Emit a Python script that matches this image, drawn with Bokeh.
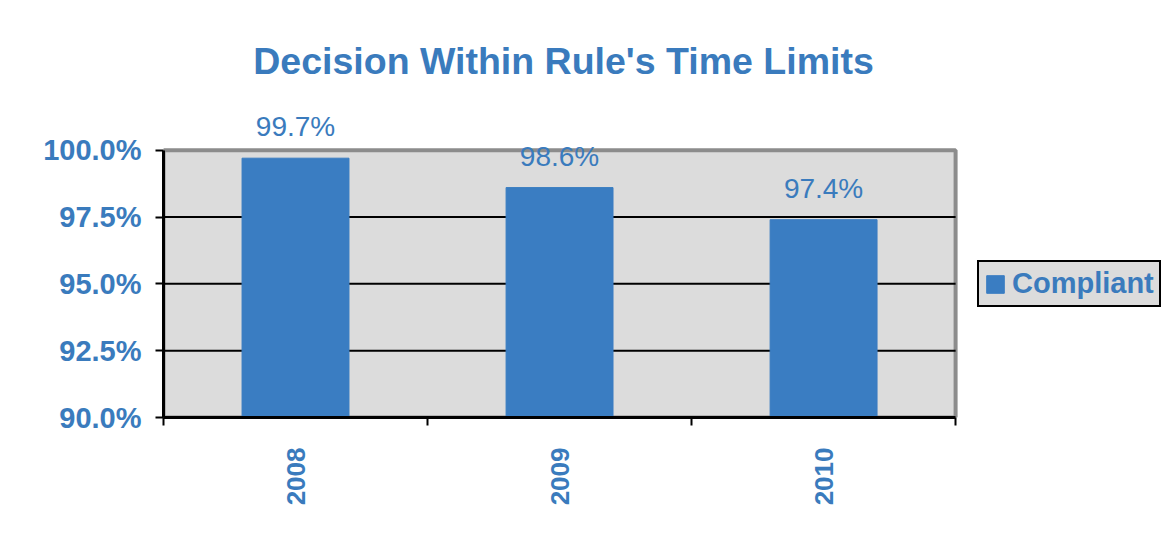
from math import pi
from bokeh.plotting import figure
from bokeh.models import (ColumnDataSource, Range1d, FixedTicker, PrintfTickFormatter,
                          LabelSet, Label, Legend, LegendItem, BoxAnnotation)
from bokeh.core.properties import value
from bokeh.embed import file_html
from bokeh.resources import INLINE

years = ["2008", "2009", "2010"]
compliant = [99.7, 98.6, 97.4]
y_ticks = [90.0, 92.5, 95.0, 97.5, 100.0]
title_text = "Decision Within Rule's Time Limits"
series_name = "Compliant"

BLUE = "#3a7dc2"
TXT = "#3a7bbd"
FONT = "Liberation Sans"
PLOT_BG = "#dcdcdc"

n = len(years)
xs = [i + 0.5 for i in range(n)]
src = ColumnDataSource(dict(x=xs, top=compliant,
                            label=[f"{v:.1f}%" for v in compliant]))

p = figure(width=1165, height=528, output_backend="svg", toolbar_location=None,
           x_range=Range1d(0, 3.795), y_range=Range1d(y_ticks[0], 105.0),
           min_border_left=163, min_border_right=0, min_border_top=16,
           min_border_bottom=111)
p.background_fill_color = "white"
p.border_fill_color = "white"
p.outline_line_color = None
p.xgrid.visible = False
p.ygrid.visible = False

# plot area (gray box with darker top/right border)
p.add_layout(BoxAnnotation(left=0, right=n, bottom=y_ticks[0], top=y_ticks[-1],
                           fill_color=PLOT_BG, fill_alpha=1.0,
                           line_color="#8c8c8c", line_alpha=1.0, line_width=4,
                           level="underlay"))

# horizontal gridlines inside plot area
grid_y = y_ticks[1:-1]
p.segment(x0=[0] * len(grid_y), x1=[n] * len(grid_y), y0=grid_y, y1=grid_y,
          line_color="black", line_width=2)

r = p.vbar(x="x", top="top", bottom=y_ticks[0], width=0.405, source=src,
           fill_color=BLUE, line_color=BLUE)

# y axis
ya = p.yaxis[0]
ya.bounds = (y_ticks[0], y_ticks[-1])
ya.ticker = FixedTicker(ticks=y_ticks)
ya.formatter = PrintfTickFormatter(format="%.1f%%")
ya.axis_line_color = "black"
ya.axis_line_width = 3
ya.major_tick_line_color = "black"
ya.major_tick_line_width = 2
ya.major_tick_out = 8
ya.major_tick_in = 0
ya.minor_tick_line_color = None
ya.major_label_standoff = 14
ya.major_label_text_font = FONT
ya.major_label_text_font_style = "bold"
ya.major_label_text_font_size = "29px"
ya.major_label_text_color = TXT

# x axis
xa = p.xaxis[0]
xa.bounds = (0, n)
xa.ticker = FixedTicker(ticks=xs, minor_ticks=list(range(n + 1)))
xa.major_label_overrides = {x: y for x, y in zip(xs, years)}
xa.axis_line_color = "black"
xa.axis_line_width = 3
xa.major_tick_line_color = None
xa.major_tick_out = 0
xa.major_tick_in = 0
xa.minor_tick_line_color = "black"
xa.minor_tick_line_width = 2
xa.minor_tick_out = 8
xa.minor_tick_in = 0
xa.major_label_orientation = pi / 2
xa.major_label_standoff = 22
xa.major_label_text_font = FONT
xa.major_label_text_font_style = "bold"
xa.major_label_text_font_size = "26px"
xa.major_label_text_color = TXT

# value labels
labels = LabelSet(x="x", y="top", text="label", source=src, text_align="center",
                  text_baseline="bottom", y_offset=16, text_font=value(FONT),
                  text_font_size="28px", text_color=TXT)
p.add_layout(labels)

# title
p.add_layout(Label(x=400, y=357, x_units="screen", y_units="screen", text=title_text,
                   text_align="center", text_baseline="middle", text_font=FONT,
                   text_font_style="bold", text_font_size="37.5px", text_color=TXT))

# legend
leg = Legend(items=[LegendItem(label=series_name, renderers=[r])], location=(814, 110),
             background_fill_color=PLOT_BG, background_fill_alpha=1.0,
             border_line_color="black", border_line_alpha=1.0, border_line_width=2,
             label_text_font=FONT, label_text_font_style="bold",
             label_text_font_size="29px", label_text_color=TXT,
             glyph_width=22, glyph_height=22, label_standoff=6, padding=5,
             margin=0, spacing=0)
p.add_layout(leg)

open("out.html", "w").write(file_html(p, INLINE))
